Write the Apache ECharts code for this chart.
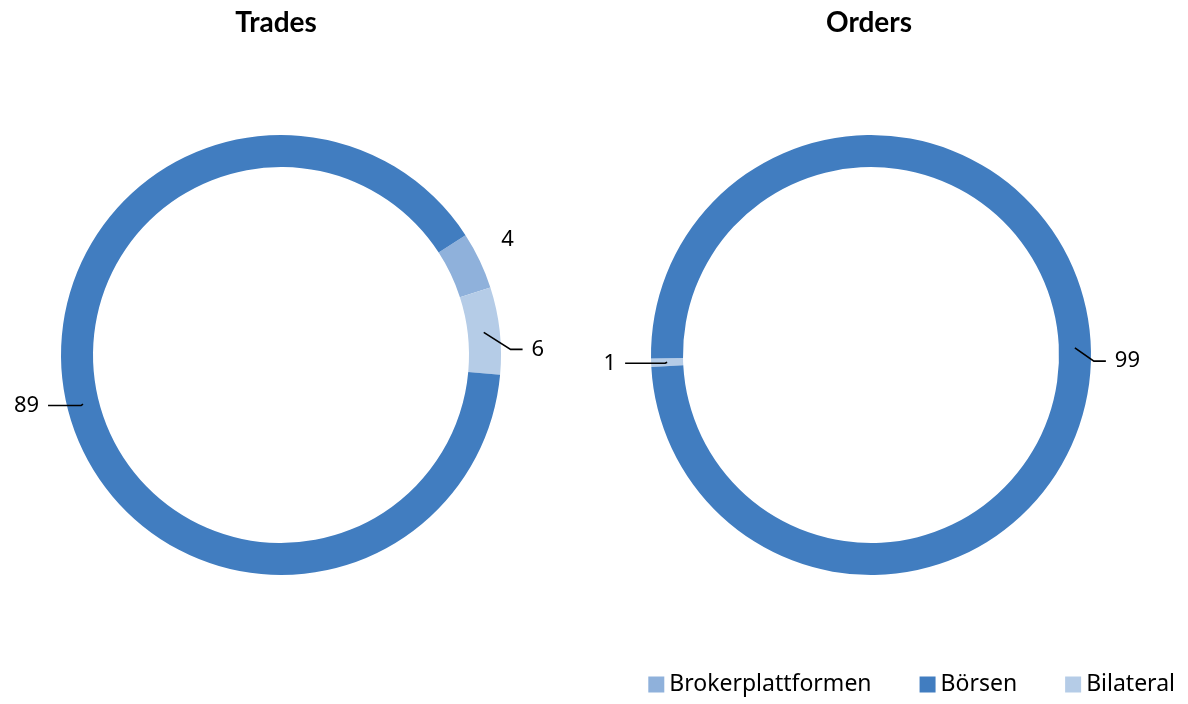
<!DOCTYPE html>
<html>
<head>
<meta charset="utf-8">
<script src="https://cdn.jsdelivr.net/npm/echarts@6/dist/echarts.min.js"></script>
<style>
    html, body { margin: 0; padding: 0; background: #fff; }
    #chart { width: 1188px; height: 704px; }
</style>
</head>
<body>
<div id="chart"></div>
<script>
// legend order
var categories = ['Brokerplattformen', 'Börsen', 'Bilateral'];

// Trades ring, clockwise from the start angle
var tradesNames = ['Brokerplattformen', 'Bilateral', 'Börsen'];
var tradesValues = [4.2, 6.4, 89.4];

// Orders ring, clockwise from the start angle
var ordersNames = ['Bilateral', 'Börsen'];
var ordersValues = [0.6, 99.4];

var colorOf = {
    'Brokerplattformen': '#8FB1DB',
    'Börsen': '#417DC0',
    'Bilateral': '#B5CCE7'
};

// leader line settings per slice: [show, length, length2, dx, dy]
var tradesLines = [[false, 20, 0, 9, -19], [true, 27, 12, 0, 20], [true, 2, 33, 0, 1]];
var ordersLines = [[true, 2, 40, 0, 1], [true, 19, 12, 0, 14]];

var labelFont = { color: '#000', fontSize: 22, fontFamily: 'Noto Sans' };

function ringData(names, values) {
    return names.map(function (n, i) {
        return { name: n, value: values[i], itemStyle: { color: colorOf[n] } };
    });
}

function labelData(names, values, lines) {
    return names.map(function (n, i) {
        return {
            name: n,
            value: values[i],
            labelLine: { show: lines[i][0], length: lines[i][1], length2: lines[i][2] }
        };
    });
}

function shifter(lines) {
    return function (p) {
        var s = lines[p.dataIndex];
        var pts = p.labelLinePoints;
        var out = { dx: s[3], dy: s[4] };
        if (pts) {
            out.labelLinePoints = [
                pts[0],
                [pts[1][0] + s[3], pts[1][1] + s[4]],
                [pts[2][0] + s[3], pts[2][1] + s[4]]
            ];
        }
        return out;
    };
}

function ring(center, startAngle, names, values) {
    return {
        type: 'pie',
        center: center,
        radius: [188, 220],
        startAngle: startAngle,
        clockwise: true,
        silent: true,
        avoidLabelOverlap: false,
        label: { show: false },
        labelLine: { show: false },
        itemStyle: { borderWidth: 0 },
        data: ringData(names, values)
    };
}

function labels(center, startAngle, names, values, lines) {
    return {
        type: 'pie',
        center: center,
        radius: [0, 204],
        startAngle: startAngle,
        clockwise: true,
        silent: true,
        z: 5,
        avoidLabelOverlap: false,
        itemStyle: { color: 'rgba(0,0,0,0)', borderWidth: 0 },
        label: {
            show: true,
            position: 'outside',
            formatter: function (p) { return Math.round(p.value); },
            distanceToLabelLine: 9,
            color: labelFont.color,
            fontSize: labelFont.fontSize,
            fontFamily: labelFont.fontFamily
        },
        labelLine: { lineStyle: { color: '#000', width: 1.6 } },
        labelLayout: shifter(lines),
        data: labelData(names, values, lines)
    };
}

var chart = echarts.init(document.getElementById('chart'));
var titleFont = { fontFamily: 'Lato', fontWeight: 'bold', fontSize: 28, color: '#000' };
var option = {
    animation: false,
    title: [
        { text: 'Trades', left: 271, top: 4, textAlign: 'center', textStyle: titleFont },
        { text: 'Orders', left: 864, top: 4, textAlign: 'center', textStyle: titleFont }
    ],
    legend: {
        right: 8,
        bottom: 3,
        icon: 'rect',
        itemWidth: 16,
        itemHeight: 16,
        itemGap: 48,
        selectedMode: false,
        textStyle: { fontFamily: 'Noto Sans', fontSize: 23, color: '#000' },
        data: categories.map(function (n) {
            return { name: n, itemStyle: { color: colorOf[n] } };
        })
    },
    series: [
        ring([281, 355], 33, tradesNames, tradesValues),
        ring([871, 355], 183.1, ordersNames, ordersValues),
        labels([281, 355], 33, tradesNames, tradesValues, tradesLines),
        labels([871, 355], 183.1, ordersNames, ordersValues, ordersLines)
    ]
};
chart.setOption(option);
</script>
</body>
</html>
